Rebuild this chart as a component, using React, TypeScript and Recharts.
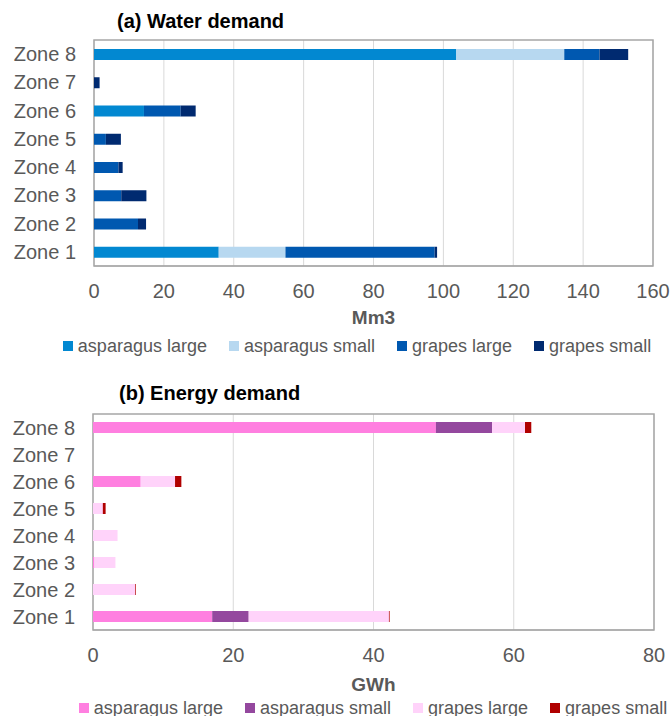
import { Bar, BarChart, CartesianGrid, ReferenceArea, XAxis, YAxis } from 'recharts';

const zones = ['Zone 1', 'Zone 2', 'Zone 3', 'Zone 4', 'Zone 5', 'Zone 6', 'Zone 7', 'Zone 8'];

// (a) water demand, Mm3
const waterAsparagusLarge = [35.7, 0, 0, 0, 0, 14.3, 0, 103.7];
const waterAsparagusSmall = [19.1, 0, 0, 0, 0, 0, 0, 30.9];
const waterGrapesLarge = [42.7, 12.6, 7.8, 7.0, 3.4, 10.5, 0, 10.1];
const waterGrapesSmall = [0.7, 2.3, 7.2, 1.2, 4.3, 4.3, 1.6, 8.2];
const waterTicks = [0, 20, 40, 60, 80, 100, 120, 140, 160];

// (b) energy demand, GWh
const energyAsparagusLarge = [17.0, 0, 0.2, 0, 0, 6.8, 0, 48.9];
const energyAsparagusSmall = [5.2, 0, 0, 0, 0, 0, 0, 8.0];
const energyGrapesLarge = [20.0, 6.0, 3.0, 3.5, 1.4, 4.9, 0, 4.7];
const energyGrapesSmall = [0.1, 0.1, 0, 0, 0.4, 0.9, 0, 0.9];
const energyTicks = [0, 20, 40, 60, 80];

interface Series {
  readonly key: string;
  readonly label: string;
  readonly color: string;
  readonly values: readonly number[];
}

const waterSeries: Series[] = [
  { key: 'asparagusLarge', label: 'asparagus large', color: '#0288d1', values: waterAsparagusLarge },
  { key: 'asparagusSmall', label: 'asparagus small', color: '#b7d8f0', values: waterAsparagusSmall },
  { key: 'grapesLarge', label: 'grapes large', color: '#0058b0', values: waterGrapesLarge },
  { key: 'grapesSmall', label: 'grapes small', color: '#002a70', values: waterGrapesSmall },
];

const energySeries: Series[] = [
  { key: 'asparagusLarge', label: 'asparagus large', color: '#ff7fe0', values: energyAsparagusLarge },
  { key: 'asparagusSmall', label: 'asparagus small', color: '#94489e', values: energyAsparagusSmall },
  { key: 'grapesLarge', label: 'grapes large', color: '#ffd3fa', values: energyGrapesLarge },
  { key: 'grapesSmall', label: 'grapes small', color: '#b00000', values: energyGrapesSmall },
];

const FONT = '"Liberation Sans", Arial, sans-serif';
const GREY = '#595959';

interface PanelProps {
  readonly top: number;
  readonly title: string;
  readonly titleLeft: number;
  readonly titleY: number;
  readonly series: readonly Series[];
  readonly ticks: readonly number[];
  readonly unit: string;
  readonly marginTop: number;
  readonly marginRight: number;
  readonly yWidth: number;
  readonly xHeight: number;
  readonly unitOffset: number;
  readonly legendY: number;
  readonly legendGap: number;
  readonly legendShift: number;
}

function Panel(p: PanelProps) {
  const data = zones.map((zone, i) => {
    const row: Record<string, string | number> = { zone };
    p.series.forEach((s) => {
      row[s.key] = s.values[i];
    });
    return row;
  });
  const max = p.ticks[p.ticks.length - 1];
  const chartHeight = 330;

  return (
    <div style={{ position: 'absolute', top: p.top, left: 0, width: 670, height: chartHeight + 30 }}>
      <div
        style={{
          position: 'absolute',
          left: p.titleLeft,
          top: p.titleY - 12,
          height: 24,
          lineHeight: '24px',
          fontFamily: FONT,
          fontWeight: 'bold',
          fontSize: 20,
          color: '#000',
          whiteSpace: 'nowrap',
        }}
      >
        {p.title}
      </div>
      <BarChart
        layout="vertical"
        width={670}
        height={chartHeight}
        data={data}
        margin={{ top: p.marginTop, right: p.marginRight, bottom: 0, left: 0 }}
        barSize={11}
      >
        <CartesianGrid horizontal={false} stroke="#d9d9d9" />
        <XAxis
          type="number"
          domain={[0, max]}
          ticks={p.ticks as number[]}
          interval={0}
          height={p.xHeight}
          axisLine={{ stroke: '#a6a6a6' }}
          tickLine={false}
          tickSize={0}
          tickMargin={18}
          tick={{ fill: GREY, fontSize: 20, fontFamily: FONT }}
          label={{
            value: p.unit,
            position: 'insideTop',
            offset: p.unitOffset,
            fill: GREY,
            fontSize: 19,
            fontWeight: 'bold',
            fontFamily: FONT,
          }}
        />
        <YAxis
          type="category"
          dataKey="zone"
          reversed
          width={p.yWidth}
          axisLine={false}
          tickLine={false}
          tickSize={0}
          tickMargin={18}
          interval={0}
          tick={{ fill: GREY, fontSize: 20, fontFamily: FONT }}
        />
        {p.series.map((s) => (
          <Bar
            key={s.key}
            dataKey={s.key}
            name={s.label}
            stackId="a"
            fill={s.color}
            isAnimationActive={false}
          />
        ))}
        <ReferenceArea x1={0} x2={max} fill="none" stroke="#a6a6a6" strokeWidth={1.5} />
      </BarChart>
      <div
        style={{
          position: 'absolute',
          left: p.legendShift,
          width: 670,
          top: p.legendY - 11,
          height: 22,
          display: 'flex',
          justifyContent: 'center',
          alignItems: 'center',
          gap: p.legendGap,
          fontFamily: FONT,
          fontSize: 18,
          color: GREY,
          whiteSpace: 'nowrap',
        }}
      >
        {p.series.map((s) => (
          <span key={s.key} style={{ display: 'flex', alignItems: 'center' }}>
            <span style={{ width: 10, height: 10, background: s.color, marginRight: 5 }} />
            {s.label}
          </span>
        ))}
      </div>
    </div>
  );
}

export default function App() {
  return (
    <div style={{ position: 'absolute', left: 0, top: 0, width: 670, height: 716, background: '#fff' }}>
      <Panel
        top={0}
        title="(a) Water demand"
        titleLeft={117}
        titleY={21}
        series={waterSeries}
        ticks={waterTicks}
        unit="Mm3"
        marginTop={40}
        marginRight={17}
        yWidth={94}
        xHeight={64}
        unitOffset={45}
        legendY={346}
        legendGap={22}
        legendShift={22}
      />
      <Panel
        top={370}
        title="(b) Energy demand"
        titleLeft={119}
        titleY={23}
        series={energySeries}
        ticks={energyTicks}
        unit="GWh"
        marginTop={44}
        marginRight={16}
        yWidth={93}
        xHeight={70}
        unitOffset={48}
        legendY={338}
        legendGap={22}
        legendShift={38}
      />
    </div>
  );
}
